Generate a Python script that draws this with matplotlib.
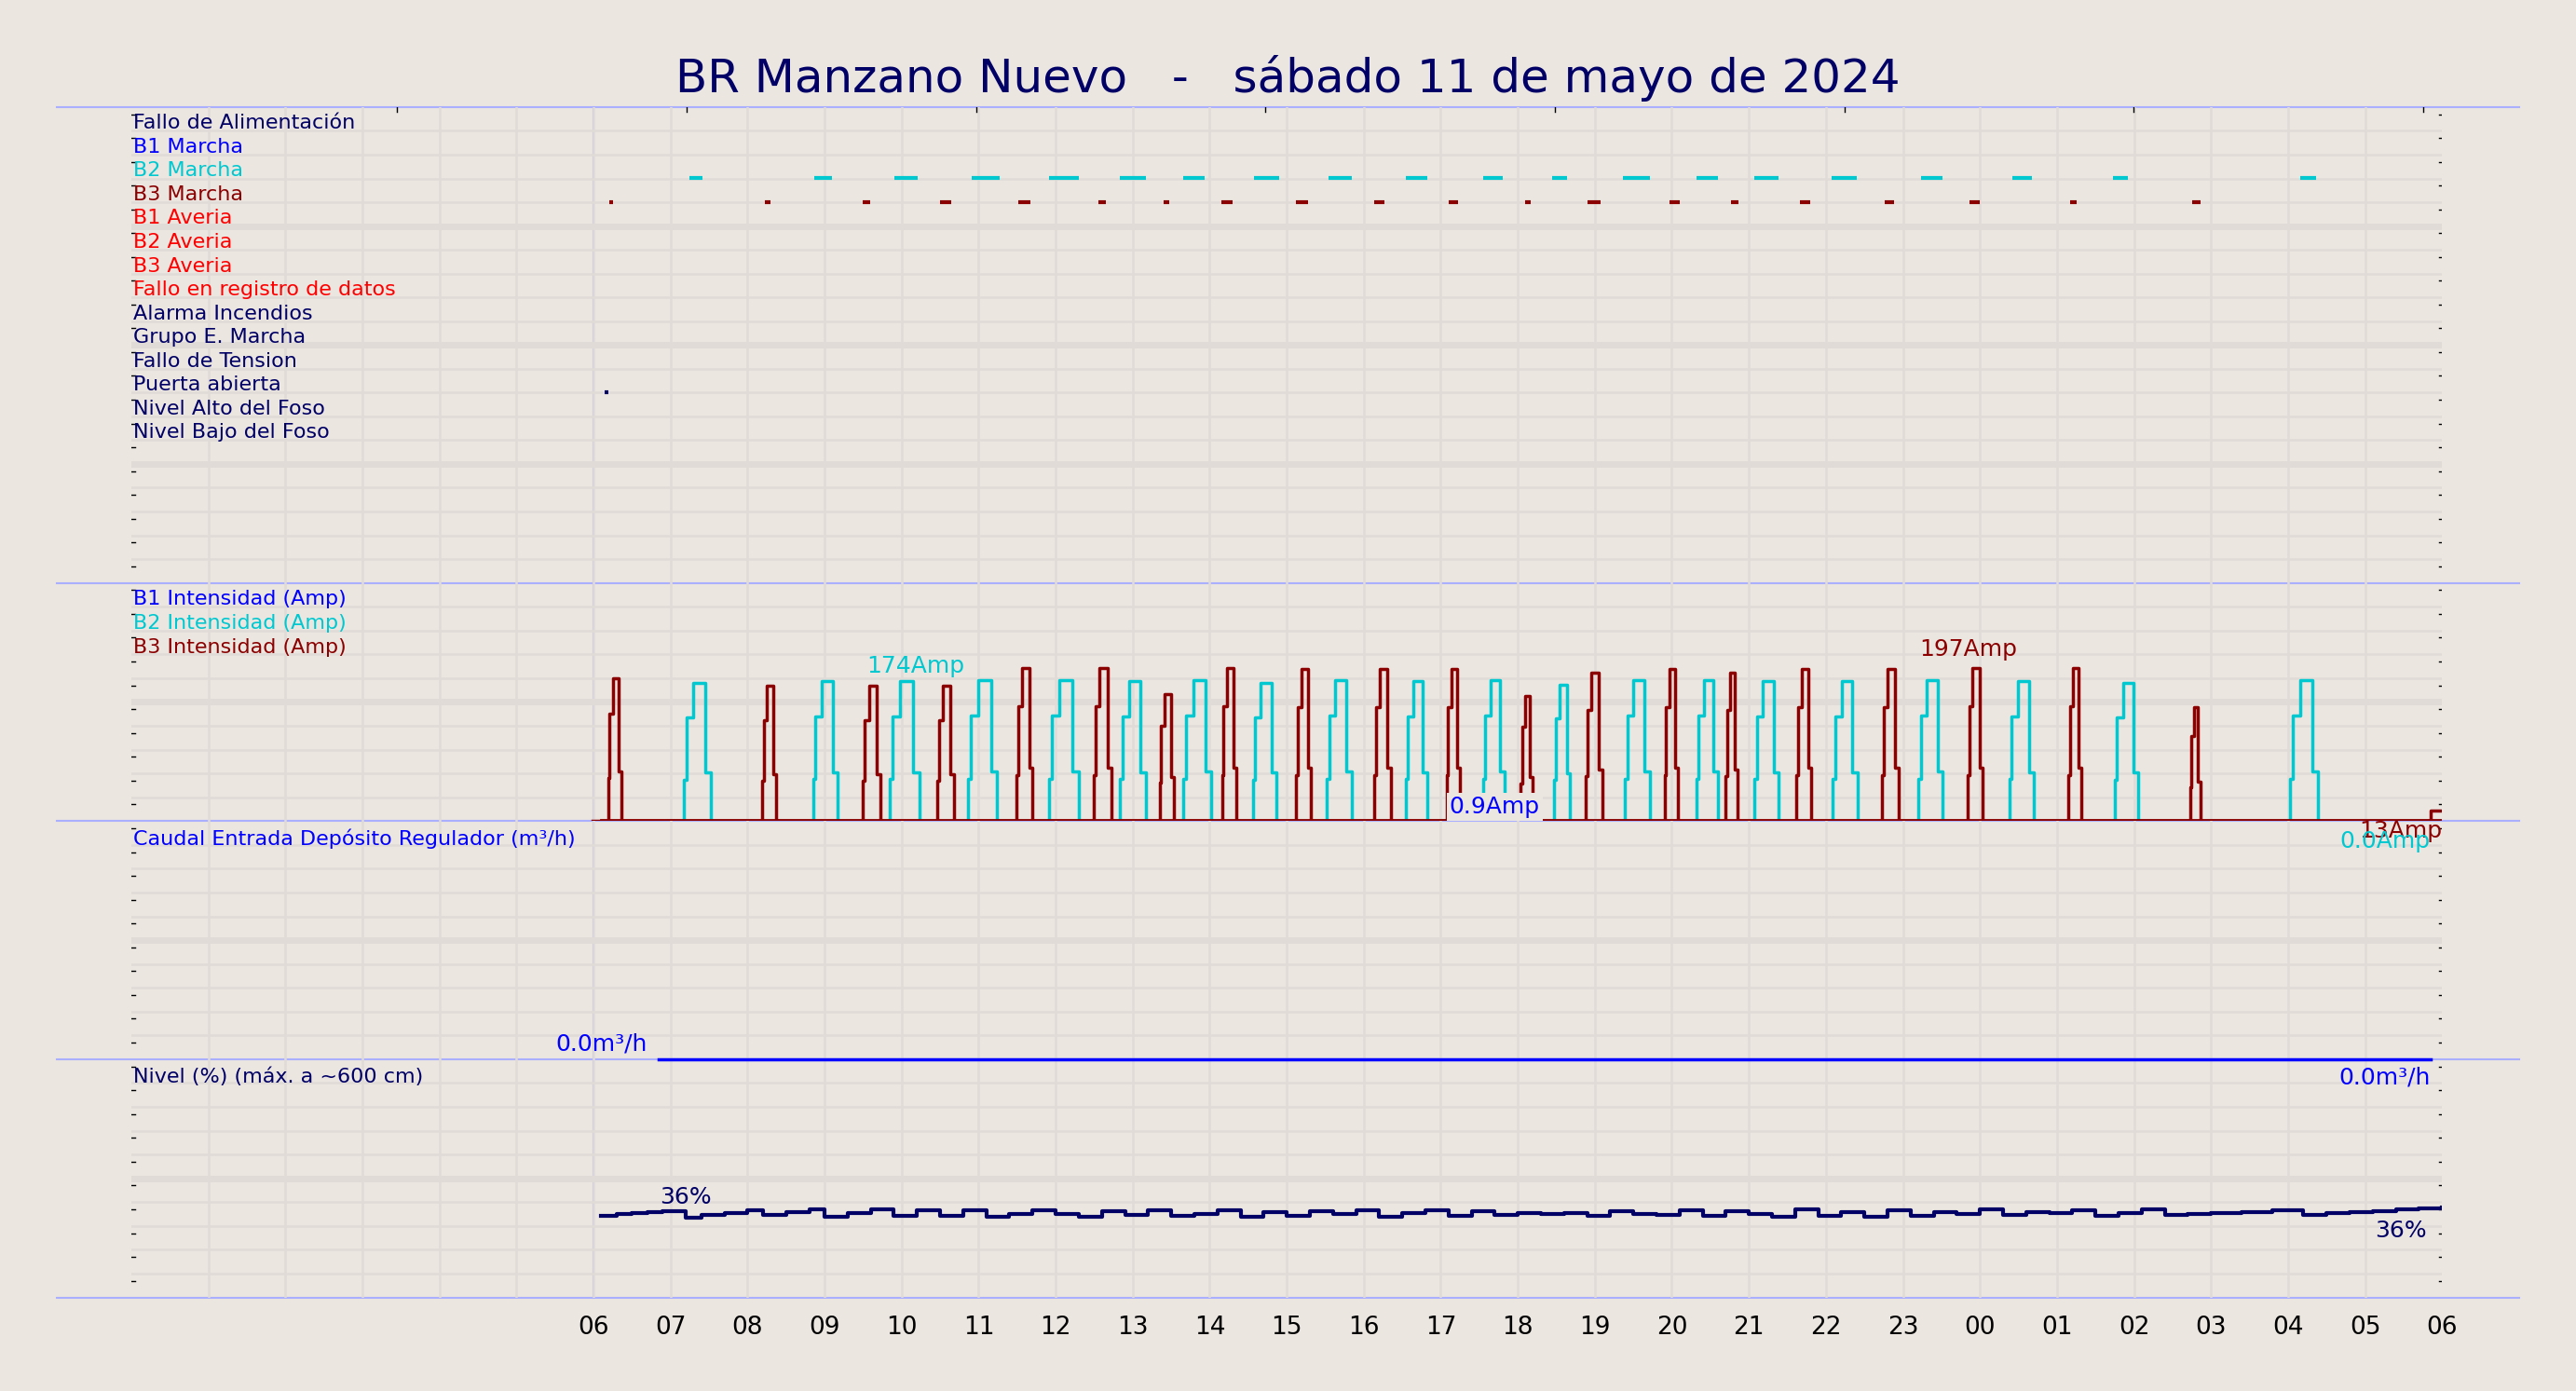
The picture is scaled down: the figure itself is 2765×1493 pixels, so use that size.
import matplotlib
matplotlib.use("Agg")
import matplotlib.pyplot as plt
import numpy as np

BG = "#ebe6e0"
GRID = "#e0dbd6"
NAVY = "#000066"
CYAN = "#00c8d0"
DRED = "#8b0000"
BLUE = "#0000ff"
RED = "#ff0000"
EDGE = "#aab0ff"

title = "BR Manzano Nuevo   -   sábado 11 de mayo de 2024"
hour_labels = ["06","07","08","09","10","11","12","13","14","15","16","17","18","19",
               "20","21","22","23","00","01","02","03","04","05","06"]
hour_pos = list(range(6, 31))

signal_names = ["Fallo de Alimentación","B1 Marcha","B2 Marcha","B3 Marcha","B1 Averia",
                "B2 Averia","B3 Averia","Fallo en registro de datos","Alarma Incendios",
                "Grupo E. Marcha","Fallo de Tension","Puerta abierta","Nivel Alto del Foso",
                "Nivel Bajo del Foso"]
signal_colors = [NAVY, BLUE, CYAN, DRED, RED, RED, RED, RED, NAVY, NAVY, NAVY, NAVY, NAVY, NAVY]

b2_run = [(7.24,7.41),(8.86,9.09),(9.91,10.21),(10.91,11.27),(11.91,12.30),(12.83,13.17),
          (13.66,13.94),(14.58,14.90),(15.54,15.84),(16.55,16.82),(17.55,17.81),(18.45,18.64),
          (19.36,19.71),(20.32,20.60),(21.07,21.39),(22.07,22.40),(23.23,23.51),(24.42,24.68),
          (25.73,25.92),(28.16,28.37)]
b3_run = [(6.21,6.25),(8.22,8.30),(9.49,9.59),(10.50,10.65),(11.52,11.67),(12.55,12.65),
          (13.40,13.47),(14.15,14.30),(15.12,15.28),(16.13,16.27),(17.10,17.22),(18.09,18.17),
          (18.90,19.07),(19.97,20.10),(20.77,20.87),(21.66,21.80),(22.76,22.88),(23.87,24.00),
          (25.17,25.25),(26.75,26.87)]
door_open = [(6.15,6.19)]

# current pulses: start, end (h), peak (Amp)
b2_pulses = [(7.17,7.52,174),(8.85,9.17,176),(9.84,10.23,176),(10.86,11.24,178),(11.91,12.30,178),
             (12.83,13.17,176),(13.66,14.02,178),(14.56,14.86,174),(15.52,15.84,178),(16.55,16.82,176),
             (17.55,17.83,178),(18.47,18.68,172),(19.39,19.71,178),(20.32,20.60,178),(21.07,21.39,176),
             (22.09,22.41,176),(23.20,23.52,178),(24.38,24.70,176),(25.75,26.05,174),(28.03,28.39,178)]
b3_pulses = [(6.19,6.36,180),(8.19,8.37,170),(9.50,9.72,170),(10.46,10.68,170),(11.49,11.70,193),
             (12.49,12.72,193),(13.35,13.54,160),(14.16,14.35,193),(15.12,15.31,191),(16.14,16.35,191),
             (17.08,17.25,191),(18.04,18.19,158),(18.88,19.10,187),(19.91,20.08,191),(20.70,20.85,187),
             (21.62,21.81,191),(22.73,22.94,191),(23.84,24.03,193),(25.15,25.32,193),(26.73,26.86,143)]

level_t = [6.1,6.3,6.5,6.7,6.9,7.2,7.4,7.7,8.0,8.2,8.5,8.8,9.0,9.3,9.6,9.9,10.2,10.5,10.8,11.1,
           11.4,11.7,12.0,12.3,12.6,12.9,13.2,13.5,13.8,14.1,14.4,14.7,15.0,15.3,15.6,15.9,16.2,
           16.5,16.8,17.1,17.4,17.7,18.0,18.3,18.6,18.9,19.2,19.5,19.8,20.1,20.4,20.7,21.0,21.3,
           21.6,21.9,22.2,22.5,22.8,23.1,23.4,23.7,24.0,24.3,24.6,24.9,25.2,25.5,25.8,26.1,26.4,
           26.7,27.0,27.4,27.8,28.2,28.5,28.8,29.1,29.4,29.7,30.0]
level_v = [34.3,34.9,35.4,35.9,36.1,33.6,34.5,35.4,36.5,34.8,35.9,36.8,33.8,35.5,36.9,34.2,36.4,
           34.3,36.6,34.0,35.2,36.6,35.0,33.8,36.2,34.8,36.4,34.2,35.2,36.6,34.0,35.8,34.4,36.2,
           35.0,36.6,34.0,35.6,36.6,34.2,36.1,34.7,35.4,35.0,35.6,34.2,36.2,35.2,34.8,36.4,34.4,
           36.2,35.0,34.0,36.8,34.4,36.0,34.0,36.4,34.4,36.0,35.2,36.8,34.6,36.0,35.6,36.5,34.4,
           35.4,36.9,34.6,35.2,35.6,36.0,36.4,34.8,35.6,36.0,36.3,36.8,37.3,37.7]

flow_t = [6.85, 29.85]
flow_v = [0.0, 0.0]

fig = plt.figure(figsize=(27.65, 14.93), dpi=100, facecolor=BG)
L, R = 0.051, 0.948
bounds = [0.923, 0.581, 0.4097, 0.2385, 0.0673]

def mk(i, nrows, ymax):
    ax = fig.add_axes([L, bounds[i+1], R-L, bounds[i]-bounds[i+1]])
    ax.patch.set_visible(False)
    ax.set_xlim(0, 30)
    ax.set_ylim(0, ymax)
    for h in range(1, 30):
        ax.axvline(h, color=GRID, lw=1.8, zorder=0)
    step = ymax / nrows
    for k in range(1, nrows):
        ax.axhline(k*step, color=GRID, lw=(5 if k % 5 == 0 else 1.8), zorder=0)
    for s in ax.spines.values():
        s.set_visible(False)
    ax.set_xticks([]); ax.set_yticks([])
    for k in range(1, nrows+1):
        ax.plot([0, 0.05], [k*step - step*0.3]*2, color="k", lw=1)
        ax.plot([29.96, 30.02], [k*step - step*0.3]*2, color="k", lw=1)
    return ax

# top signals panel
ax0 = mk(0, 20, 20)
def row_y(i):
    return 20 - i
for i, (n, c) in enumerate(zip(signal_names, signal_colors)):
    ax0.text(0.02, row_y(i) - 0.68, n, color=c, fontsize=16, va="center", ha="left")
def draw_runs(runs, i, c):
    for a, b in runs:
        ax0.plot([a, b], [row_y(i) - 0.98]*2, color=c, lw=3, solid_capstyle="butt")
draw_runs(b2_run, 2, CYAN)
draw_runs(b3_run, 3, DRED)
draw_runs(door_open, 11, NAVY)
for x in [3.45, 7.21, 10.97, 14.72, 18.48, 22.24, 25.99, 29.75]:
    ax0.plot([x, x], [20, 19.8], color="k", lw=1)

# current panel
ax1 = mk(1, 10, 300)
ax1.set_zorder(5)
for i, (n, c) in enumerate(zip(["B1 Intensidad (Amp)","B2 Intensidad (Amp)","B3 Intensidad (Amp)"],
                                [BLUE, CYAN, DRED])):
    ax1.text(0.02, 300 - 30*(i+0.7), n, color=c, fontsize=16, va="center")
def pulse_xy(p):
    xs, ys = [p[0][0]-0.2], [0]
    for a, b, pk in p:
        d = b - a
        xs += [a, a+0.1*d, a+0.35*d, b-0.2*d, b]
        ys += [0.3*pk, 0.75*pk, pk, 0.35*pk, 0]
    return xs, ys
xs, ys = pulse_xy(b2_pulses)
ax1.step(xs + [30], ys + [0], where="post", color=CYAN, lw=2.5)
xs, ys = pulse_xy(b3_pulses)
ax1.step(xs + [29.85, 30], ys + [13, 13], where="post", color=DRED, lw=2.5)
ax1.plot([6.1, 30], [1, 1], color=DRED, lw=2)
ax1.text(10.18, 195, "174Amp", color=CYAN, fontsize=18, ha="center", va="center")
ax1.text(23.85, 216, "197Amp", color=DRED, fontsize=18, ha="center", va="center")
ax1.text(17.7, 18, "0.9Amp", color=BLUE, fontsize=18, ha="center", va="center",
         bbox=dict(facecolor=BG, edgecolor="none", pad=2))
ax1.text(30.0, -12, "13Amp", color=DRED, fontsize=18, ha="right", va="center", clip_on=False)
ax1.text(29.85, -25, "0.0Amp", color=CYAN, fontsize=18, ha="right", va="center", clip_on=False)

# flow panel
ax2 = mk(2, 10, 10)
ax2.set_zorder(4)
ax2.text(0.02, 9.25, "Caudal Entrada Depósito Regulador (m³/h)", color=BLUE, fontsize=16, va="center")
ax2.plot(flow_t, flow_v, color=BLUE, lw=2.5, clip_on=False, zorder=6)
ax2.text(6.1, 0.65, "0.0m³/h", color=BLUE, fontsize=18, ha="center", va="center")
ax2.text(29.85, -0.75, "0.0m³/h", color=BLUE, fontsize=18, ha="right", va="center", clip_on=False)

# level panel
ax3 = mk(3, 10, 100)
ax3.text(0.02, 92.5, "Nivel (%) (máx. a ~600 cm)", color=NAVY, fontsize=16, va="center")
ax3.step(level_t, level_v, where="post", color=NAVY, lw=3)
ax3.text(7.2, 42, "36%", color=NAVY, fontsize=18, ha="center", va="center")
ax3.text(29.8, 28, "36%", color=NAVY, fontsize=18, ha="right", va="center")
ax3.set_xticks(hour_pos)
ax3.set_xticklabels(hour_labels, fontsize=19)
ax3.tick_params(axis="x", length=0, pad=14)

# frame lines
for y in bounds:
    fig.add_artist(plt.Line2D([0.022, 0.978], [y, y], color=EDGE, lw=1.5, zorder=0))
x06 = L + (R-L)*6/30
fig.add_artist(plt.Line2D([x06, x06], [bounds[-1], bounds[0]], color=EDGE, lw=1.5, zorder=0))

fig.text(0.5, 0.944, title, color=NAVY, fontsize=36, ha="center", va="center")
fig.savefig("out.png", dpi=100, facecolor=BG)
